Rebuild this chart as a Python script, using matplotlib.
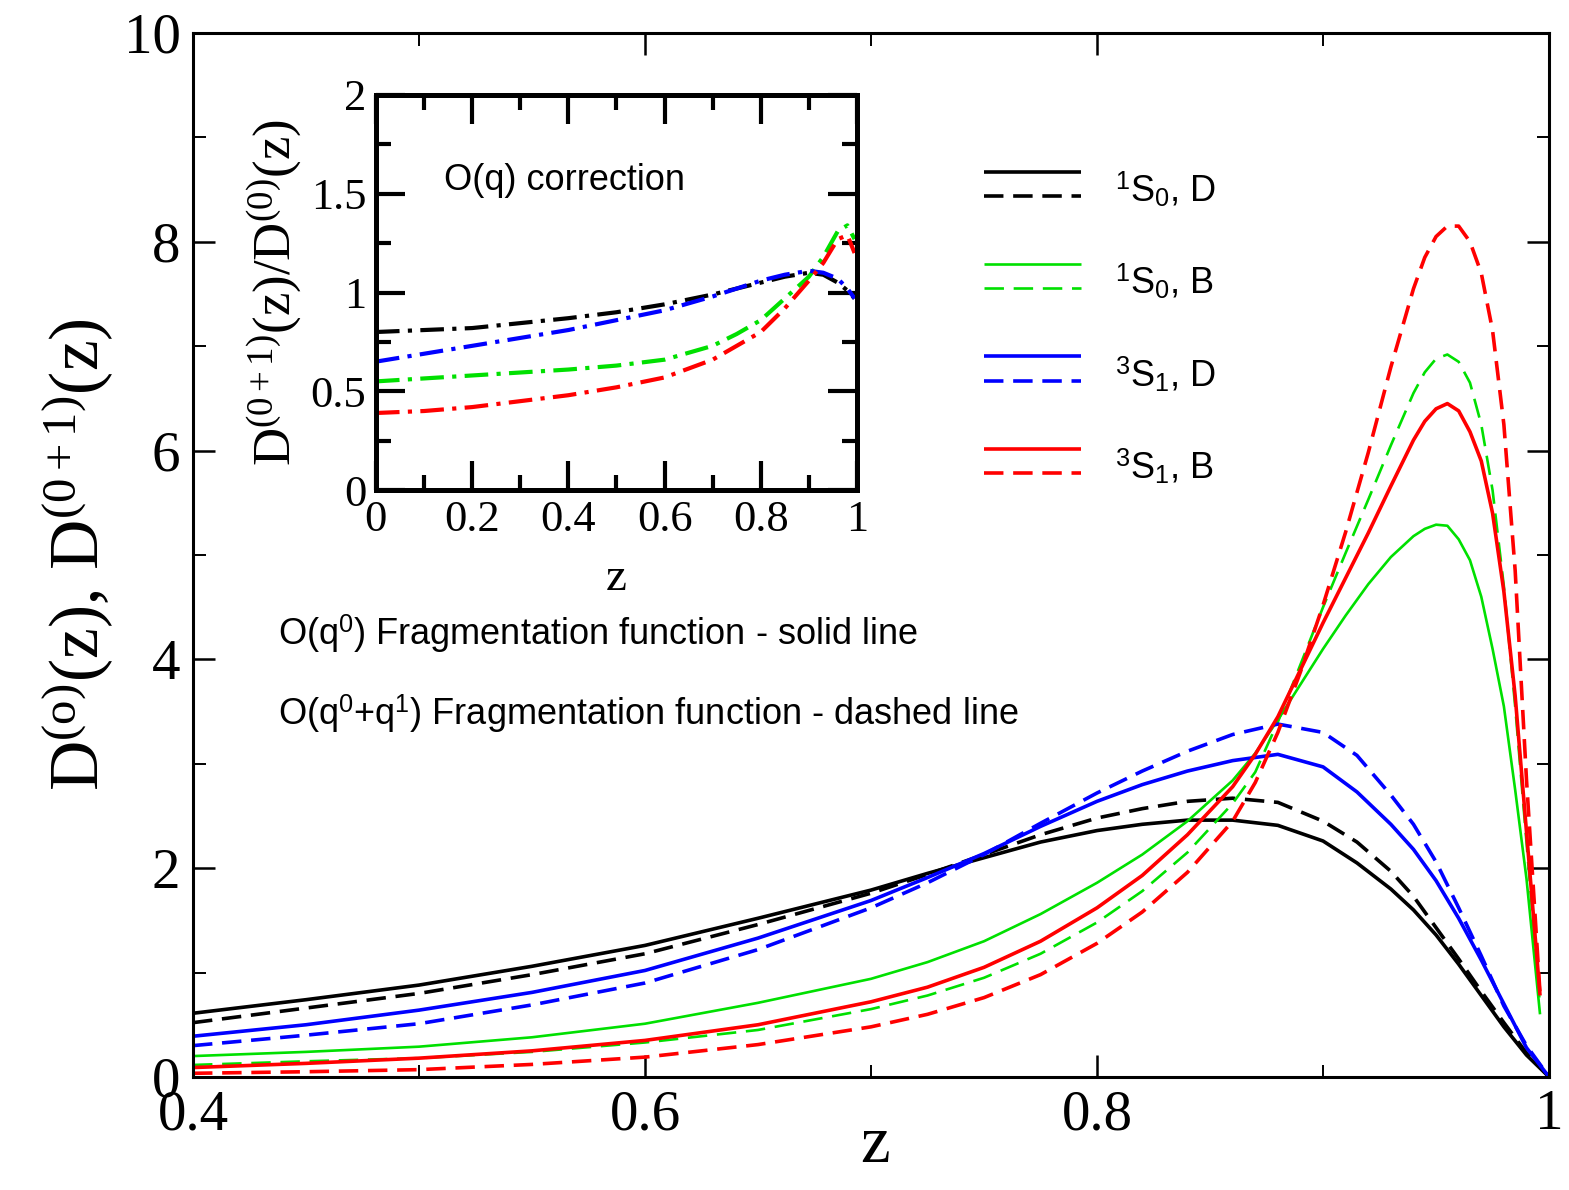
"""Fragmentation functions D(z) with O(q) correction inset."""

import numpy as np
import matplotlib
matplotlib.use("Agg")
import matplotlib.pyplot as plt
from matplotlib.lines import Line2D
from matplotlib.legend_handler import HandlerBase
from matplotlib.ticker import MultipleLocator, FuncFormatter

plt.rcParams["mathtext.fontset"] = "custom"
plt.rcParams["mathtext.rm"] = "Liberation Serif"
plt.rcParams["mathtext.it"] = "Liberation Serif:italic"
plt.rcParams["mathtext.bf"] = "Liberation Serif:bold"
plt.rcParams["mathtext.sf"] = "Liberation Sans"
plt.rcParams["lines.scale_dashes"] = False

# --- main panel data -------------------------------------------------------
z_d = [0.40, 0.45, 0.50, 0.55, 0.60, 0.65, 0.70, 0.725, 0.75, 0.775, 0.80,
       0.82, 0.84, 0.86, 0.88, 0.90, 0.915, 0.93, 0.94, 0.95, 0.96, 0.97,
       0.98, 0.99, 1.00]
s0_d_lo = [0.61, 0.74, 0.88, 1.06, 1.26, 1.52, 1.79, 1.95, 2.10, 2.25, 2.36,
           2.42, 2.46, 2.46, 2.41, 2.26, 2.05, 1.80, 1.60, 1.36, 1.08, 0.78,
           0.48, 0.21, 0.0]
s0_d_nlo = [0.52, 0.66, 0.80, 0.98, 1.18, 1.46, 1.76, 1.94, 2.13, 2.32, 2.48,
            2.57, 2.64, 2.67, 2.63, 2.45, 2.25, 1.97, 1.73, 1.43, 1.13, 0.82,
            0.52, 0.23, 0.0]
s1_d_lo = [0.39, 0.50, 0.64, 0.81, 1.02, 1.33, 1.69, 1.91, 2.14, 2.40, 2.64,
           2.80, 2.93, 3.03, 3.09, 2.97, 2.73, 2.42, 2.18, 1.88, 1.52, 1.12,
           0.70, 0.28, 0.0]
s1_d_nlo = [0.30, 0.40, 0.51, 0.69, 0.90, 1.22, 1.62, 1.86, 2.13, 2.43, 2.72,
            2.93, 3.12, 3.28, 3.38, 3.30, 3.08, 2.70, 2.42, 2.06, 1.62, 1.16,
            0.68, 0.30, 0.0]

z_b = [0.40, 0.45, 0.50, 0.55, 0.60, 0.65, 0.70, 0.725, 0.75, 0.775, 0.80,
       0.82, 0.84, 0.86, 0.87, 0.88, 0.89, 0.90, 0.91, 0.92, 0.93, 0.94,
       0.945, 0.95, 0.955, 0.96, 0.965, 0.97, 0.975, 0.98, 0.985, 0.99, 0.996]
s0_b_lo = [0.20, 0.24, 0.29, 0.38, 0.51, 0.71, 0.94, 1.10, 1.30, 1.56, 1.86,
           2.13, 2.45, 2.84, 3.10, 3.42, 3.76, 4.10, 4.42, 4.72, 4.98, 5.18,
           5.25, 5.29, 5.28, 5.15, 4.95, 4.60, 4.10, 3.55, 2.75, 1.90, 0.60]
s0_b_nlo = [0.115, 0.15, 0.18, 0.24, 0.33, 0.45, 0.65, 0.78, 0.95, 1.18, 1.48,
            1.78, 2.15, 2.62, 2.92, 3.40, 3.95, 4.50, 5.02, 5.53, 6.05, 6.55,
            6.75, 6.88, 6.92, 6.85, 6.65, 6.25, 5.62, 4.70, 3.55, 2.25, 0.68]
s1_b_lo = [0.09, 0.13, 0.18, 0.25, 0.35, 0.50, 0.72, 0.86, 1.05, 1.30, 1.62,
           1.93, 2.32, 2.78, 3.09, 3.45, 3.90, 4.35, 4.78, 5.21, 5.66, 6.10,
           6.28, 6.40, 6.45, 6.38, 6.18, 5.90, 5.40, 4.65, 3.65, 2.35, 0.78]
s1_b_nlo = [0.035, 0.05, 0.07, 0.12, 0.19, 0.31, 0.48, 0.60, 0.76, 0.98, 1.28,
            1.58, 1.96, 2.45, 2.82, 3.30, 3.88, 4.52, 5.22, 5.98, 6.80, 7.55,
            7.85, 8.05, 8.15, 8.15, 8.00, 7.70, 7.15, 6.25, 4.85, 2.85, 0.80]

# --- inset data: ratio D(0+1)/D(0) -----------------------------------------
z_r = [0.0, 0.1, 0.2, 0.3, 0.4, 0.5, 0.6, 0.7, 0.75, 0.8, 0.85, 0.9, 0.93,
       0.96, 0.98, 0.995]
r_s0_d = [0.80, 0.81, 0.82, 0.845, 0.87, 0.90, 0.94, 0.99, 1.02, 1.05, 1.08,
          1.10, 1.09, 1.05, 1.01, 0.97]
r_s0_b = [0.55, 0.565, 0.58, 0.595, 0.61, 0.63, 0.66, 0.73, 0.79, 0.86, 0.97,
          1.08, 1.18, 1.31, 1.34, 1.27]
r_s1_d = [0.65, 0.69, 0.73, 0.77, 0.81, 0.86, 0.91, 0.98, 1.02, 1.06, 1.09,
          1.11, 1.10, 1.07, 1.02, 0.97]
r_s1_b = [0.39, 0.40, 0.42, 0.45, 0.48, 0.52, 0.57, 0.66, 0.73, 0.80, 0.92,
          1.06, 1.15, 1.27, 1.29, 1.20]

labels = [r"$^{\mathsf{1}}$S$_{\mathsf{0}}$, D", r"$^{\mathsf{1}}$S$_{\mathsf{0}}$, B",
          r"$^{\mathsf{3}}$S$_{\mathsf{1}}$, D", r"$^{\mathsf{3}}$S$_{\mathsf{1}}$, B"]
colors = ["black", "#00e000", "blue", "red"]
widths = [2.6, 1.9, 2.6, 2.6]


class TwoLineHandler(HandlerBase):
    """Legend handle: solid line on top, dashed line below."""

    def create_artists(self, legend, orig_handle, xdescent, ydescent,
                       width, height, fontsize, trans):
        out = []
        for h, frac in zip(orig_handle, (1.05, 0.3)):
            y = frac * height - ydescent
            ln = Line2D([-xdescent, -xdescent + width], [y, y])
            ln.update_from(h)
            ln.set_transform(trans)
            out.append(ln)
        return out


fig = plt.figure(figsize=(15.69, 11.90), dpi=100)
ax = fig.add_axes([0.123, 0.095, 0.8643, 0.8773])

series = [(z_d, s0_d_lo, s0_d_nlo), (z_b, s0_b_lo, s0_b_nlo),
          (z_d, s1_d_lo, s1_d_nlo), (z_b, s1_b_lo, s1_b_nlo)]
handles = []
for (zz, lo, nlo), c, lw in zip(series, colors, widths):
    l1, = ax.plot(zz, lo, color=c, lw=lw, solid_capstyle="butt",
                  solid_joinstyle="round")
    l2, = ax.plot(zz, nlo, color=c, lw=lw, linestyle=(0, (14, 7)),
                  dash_capstyle="butt", dash_joinstyle="round")
    handles.append((l1, l2))

ax.set_xlim(0.4, 1.0)
ax.set_ylim(0, 10)
ax.xaxis.set_major_locator(MultipleLocator(0.2))
ax.xaxis.set_minor_locator(MultipleLocator(0.1))
ax.yaxis.set_major_locator(MultipleLocator(2))
ax.yaxis.set_minor_locator(MultipleLocator(1))
fmt = FuncFormatter(lambda v, p: f"{v:g}")
ax.xaxis.set_major_formatter(fmt)
ax.yaxis.set_major_formatter(fmt)
ax.tick_params(which="both", direction="in", top=True, right=True)
ax.tick_params(which="major", length=16, width=1.8, pad=9, labelsize=41)
ax.tick_params(which="minor", length=9, width=1.4)
for t in ax.get_xticklabels() + ax.get_yticklabels():
    t.set_fontfamily("Liberation Serif")
for s in ax.spines.values():
    s.set_linewidth(2.2)

ax.set_xlabel("z", fontsize=48, fontfamily="Liberation Serif")
ax.xaxis.set_label_coords(0.503, -0.036)
ax.set_ylabel(r"$\mathrm{D^{(o)}(z),\,D^{(0+1)}(z)}$", fontsize=50)
ax.yaxis.set_label_coords(-0.057, 0.5)

ax.text(0.0627, 0.414, r"O(q$^{\mathsf{0}}$) Fragmentation function - solid line",
        transform=ax.transAxes, fontsize=26, fontfamily="Liberation Sans",
        va="baseline")
ax.text(0.0627, 0.337,
        r"O(q$^{\mathsf{0}}$+q$^{\mathsf{1}}$) Fragmentation function - dashed line",
        transform=ax.transAxes, fontsize=26, fontfamily="Liberation Sans",
        va="baseline")

leg = ax.legend(handles, labels, handler_map={tuple: TwoLineHandler()},
                loc="upper left", bbox_to_anchor=(0.583, 0.868), frameon=False,
                prop={"family": "Liberation Sans", "size": 26},
                handlelength=2.7, handleheight=1.0, labelspacing=1.47,
                handletextpad=0.95, borderpad=0, borderaxespad=0)

# --- inset -----------------------------------------------------------------
ins = fig.add_axes([0.2396, 0.5882, 0.3066, 0.332])
for rr, c in zip([r_s0_d, r_s0_b, r_s1_d, r_s1_b], colors):
    ins.plot(z_r, rr, color=c, lw=3.0, linestyle=(0, (17, 6, 3, 6)),
             dash_capstyle="butt")
ins.set_xlim(0, 1)
ins.set_ylim(0, 2)
ins.xaxis.set_major_locator(MultipleLocator(0.2))
ins.xaxis.set_minor_locator(MultipleLocator(0.1))
ins.yaxis.set_major_locator(MultipleLocator(0.5))
ins.yaxis.set_minor_locator(MultipleLocator(0.25))
ins.xaxis.set_major_formatter(fmt)
ins.yaxis.set_major_formatter(fmt)
ins.tick_params(which="both", direction="in", top=True, right=True)
ins.tick_params(which="major", length=21, width=3.0, pad=7, labelsize=32)
ins.tick_params(which="minor", length=11, width=3.0)
for t in ins.get_xticklabels() + ins.get_yticklabels():
    t.set_fontfamily("Liberation Serif")
for s in ins.spines.values():
    s.set_linewidth(3.6)
ins.set_xlabel("z", fontsize=34, fontfamily="Liberation Serif")
ins.xaxis.set_label_coords(0.5, -0.17)
ins.set_ylabel(r"$\mathrm{D^{(0+1)}(z)/D^{(0)}(z)}$", fontsize=38)
ins.yaxis.set_label_coords(-0.15, 0.5)
ins.text(0.141, 0.76, "O(q) correction", transform=ins.transAxes,
         fontsize=26, fontfamily="Liberation Sans", va="baseline")

plt.savefig("out.png", dpi=100)
plt.close()
